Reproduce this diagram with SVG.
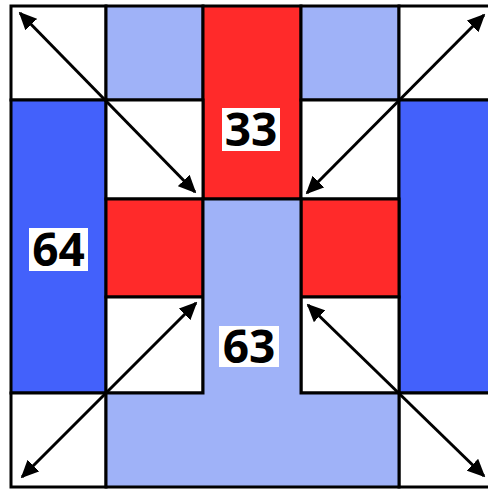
<svg xmlns="http://www.w3.org/2000/svg" width="488" height="489" viewBox="0 0 488 489">
<style>
.c{stroke:#000;stroke-width:3;stroke-linejoin:miter}
.w{fill:#fff}
.lb{fill:#9fb2f8}
.b{fill:#4361fb}
.r{fill:#ff2a2a}
.lbox{fill:#fff}
.t{font-family:"Open Sans","DejaVu Sans",sans-serif;font-weight:bold;font-size:46px;text-anchor:middle;fill:#000}
.a{stroke:#000;stroke-width:3;fill:none;marker-start:url(#ah);marker-end:url(#ah)}
</style>
<defs>
<marker id="ah" viewBox="0 0 10 10" refX="9" refY="5" markerWidth="6" markerHeight="5.5" markerUnits="strokeWidth" orient="auto-start-reverse" preserveAspectRatio="none">
<path d="M0,0 L10,5 L0,10 z" fill="#000"/>
</marker>
</defs>
<rect x="0" y="0" width="488" height="489" fill="#fff"/>
<g id="cell-r0c0"><rect class="c w" x="11" y="6" width="95" height="94"/></g>
<g id="cell-r0c1"><rect class="c lb" x="106" y="6" width="97" height="94"/></g>
<g id="node-33"><rect class="c r" x="203" y="6" width="98" height="193"/><rect class="lbox" x="222" y="108" width="58" height="43"/><text class="t" x="251" y="146">33</text></g>
<g id="cell-r0c3"><rect class="c lb" x="301" y="6" width="98" height="94"/></g>
<g id="cell-r0c4"><rect class="c w" x="399" y="6" width="97" height="94"/></g>
<g id="node-64"><rect class="c b" x="11" y="100" width="95" height="293"/><rect class="lbox" x="29" y="228" width="59" height="43"/><text class="t" x="58.5" y="266">64</text></g>
<g id="cell-r1c1"><rect class="c w" x="106" y="100" width="97" height="99"/></g>
<g id="cell-r1c3"><rect class="c w" x="301" y="100" width="98" height="99"/></g>
<g id="cell-right"><rect class="c b" x="399" y="100" width="97" height="293"/></g>
<g id="cell-r2c1"><rect class="c r" x="106" y="199" width="97" height="98"/></g>
<g id="cell-r2c3"><rect class="c r" x="301" y="199" width="98" height="98"/></g>
<g id="cell-r3c1"><rect class="c w" x="106" y="297" width="97" height="96"/></g>
<g id="cell-r3c3"><rect class="c w" x="301" y="297" width="98" height="96"/></g>
<g id="cell-r4c0"><rect class="c w" x="11" y="393" width="95" height="94"/></g>
<g id="cell-r4c4"><rect class="c w" x="399" y="393" width="97" height="94"/></g>
<g id="node-63"><path class="c lb" d="M203,199 L301,199 L301,393 L399,393 L399,487 L106,487 L106,393 L203,393 Z"/><rect class="lbox" x="219" y="326" width="60" height="41"/><text class="t" x="249" y="363">63</text></g>
<g id="connectors">
<line class="a" x1="20" y1="13" x2="195" y2="192"/>
<line class="a" x1="484" y1="15" x2="307" y2="193"/>
<line class="a" x1="22" y1="477" x2="196" y2="303"/>
<line class="a" x1="308" y1="305" x2="484" y2="476"/>
</g>
</svg>
